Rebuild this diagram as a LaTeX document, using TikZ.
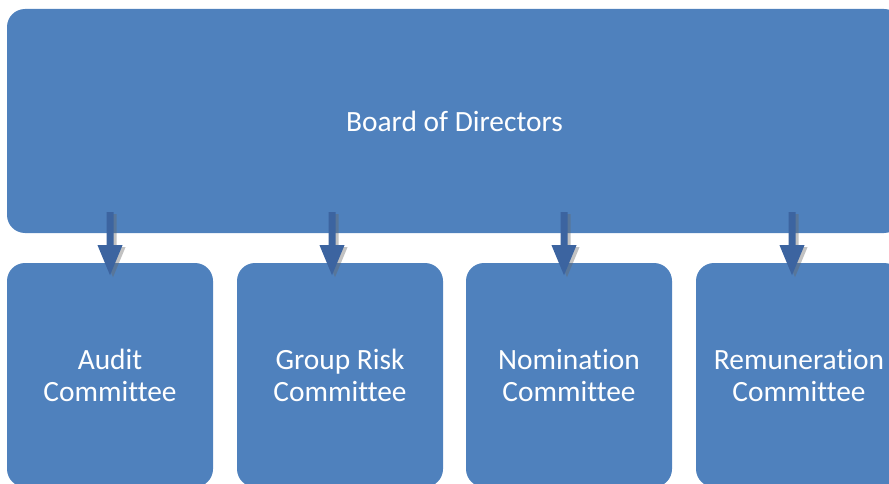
\documentclass[tikz,border=0pt]{standalone}
\usepackage{fontspec}
\setmainfont{Carlito}[Ligatures={NoCommon}]
\usetikzlibrary{calc}

\definecolor{boxblue}{HTML}{4F81BD}
\definecolor{arrowblue}{HTML}{3C64A0}

\tikzset{
  unit/.style={rectangle, rounded corners=18pt, fill=boxblue, text=white,
    align=center, font=\fontsize{29.4}{32}\selectfont, inner sep=0pt},
  committee/.style={unit, minimum width=206pt, minimum height=224pt},
  blockarrow/.pic={
    \fill[black!60, opacity=0.4, shift={(3,2)}] (-3.5,0) -- (3.5,0) -- (3.5,33) -- (12.5,33) -- (0,63) -- (-12.5,33) -- (-3.5,33) -- cycle;
    \fill[arrowblue] (-3.5,0) -- (3.5,0) -- (3.5,33) -- (12.5,33) -- (0,63) -- (-12.5,33) -- (-3.5,33) -- cycle;
  }
}

\begin{document}
\begin{tikzpicture}[x=1pt,y=-1pt]
        \path[use as bounding box] (0,0) rectangle (889,484);
        \clip (0,0) rectangle (889,484);
        \node[unit, minimum width=895pt, minimum height=224pt] (board) at (454.5,121) {Board of Directors};
        \node[committee] (audit) at (110,375) {Audit\\Committee};
        \node[committee] (risk) at (340,375) {Group Risk\\Committee};
        \node[committee] (nomination) at (569,375) {Nomination\\Committee};
        \node[committee] (remuneration) at (799,375) {Remuneration\\Committee};
        \foreach \ax in {110,332,564,792}
          \pic at ($(board.south -| \ax,0)+(0,-21)$) {blockarrow};
      \end{tikzpicture}
\end{document}
